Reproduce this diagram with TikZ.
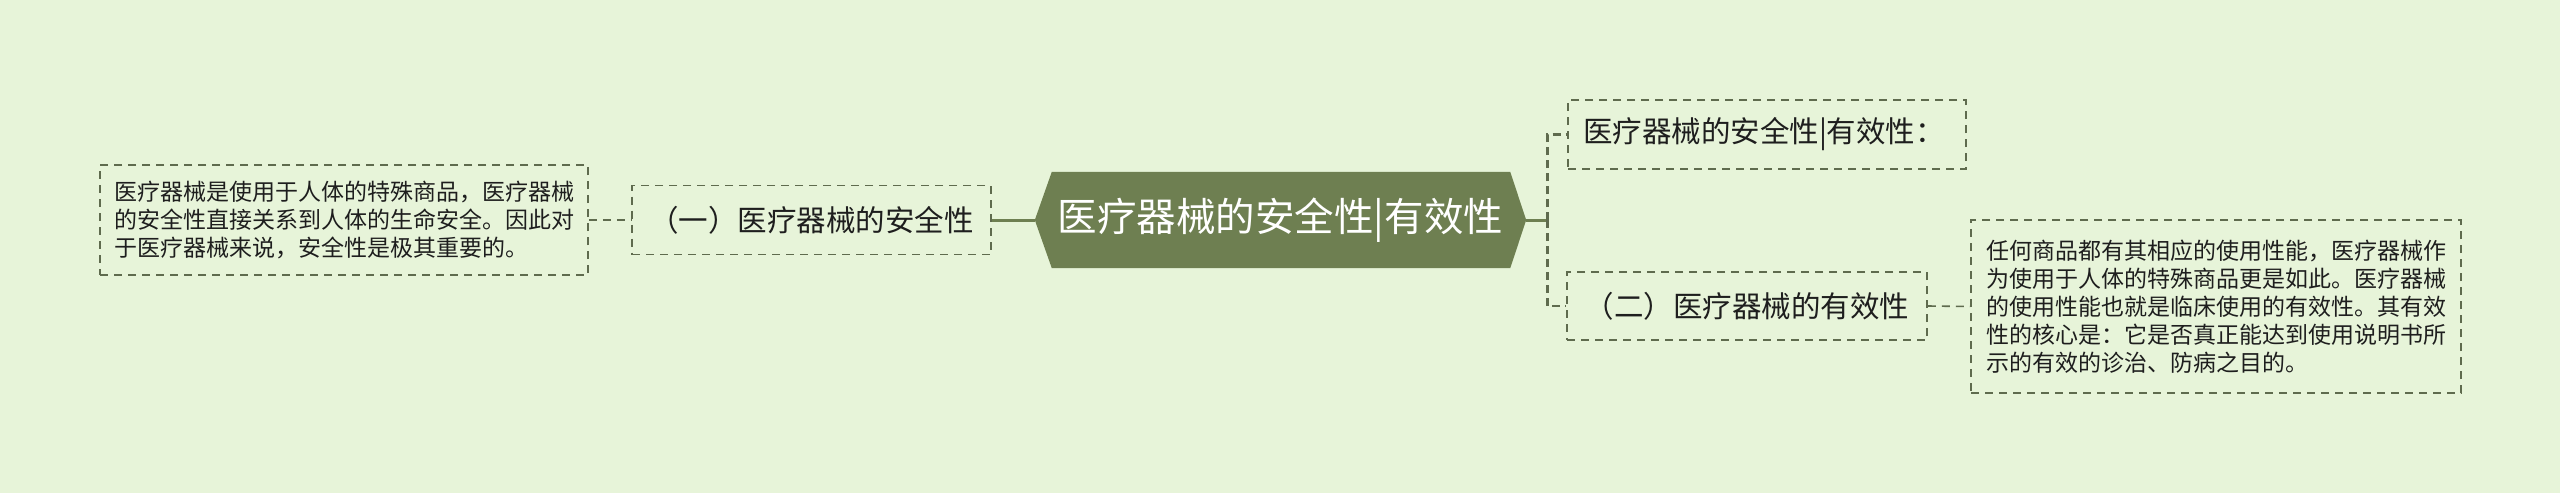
\documentclass[tikz,border=0pt]{standalone}
\usepackage{fontspec}
\setmainfont{Noto Sans CJK SC}
\usetikzlibrary{backgrounds}
\definecolor{bgc}{HTML}{E7F4D9}
\definecolor{rootc}{HTML}{6E7F51}
\definecolor{linec}{HTML}{5F6B4E}
\definecolor{txtc}{HTML}{1E1E1E}
\begin{document}
\begin{tikzpicture}[x=1pt,y=-1pt,
  box/.style={draw=linec, line width=1.6pt, dash pattern=on 8pt off 6pt, text=txtc, inner sep=0pt},
  leaf/.style={box, font=\fontsize{23}{28}\selectfont, align=left, text width=460pt},
  topic/.style={box, font=\fontsize{29.5}{34}\selectfont},
  conn/.style={draw=linec, line width=1.6pt, dash pattern=on 8pt off 6pt},
  trunk/.style={draw=rootc, line width=3pt},
  branch/.style={draw=linec, line width=2.6pt, dash pattern=on 8pt off 5pt}]
\useasboundingbox (0,0) rectangle (2560,493);

\node[leaf, inner xsep=14pt, minimum height=110pt] (l1) at (344,220)
  {医疗器械是使用于人体的特殊商品，医疗器械\\的安全性直接关系到人体的生命安全。因此对\\于医疗器械来说，安全性是极其重要的。};
\node[topic, minimum width=359pt, minimum height=69pt] (a) at (811.5,220) {（一）医疗器械的安全性};
\node[font=\fontsize{39.5}{44}\selectfont, text=white, minimum width=491pt, minimum height=96pt, inner sep=0pt] (root) at (1280.5,220) {医疗器械的安全性|有效性};
\node[topic, minimum height=69pt, text width=368pt, align=left, inner xsep=15pt] (b) at (1767,134.5) {医疗器械的安全性|有效性：};
\node[topic, minimum width=360pt, minimum height=68pt] (c) at (1747,306) {（二）医疗器械的有效性};
\node[leaf, inner xsep=15pt, minimum height=173pt] (l2) at (2216,306.5)
  {任何商品都有其相应的使用性能，医疗器械作\\为使用于人体的特殊商品更是如此。医疗器械\\的使用性能也就是临床使用的有效性。其有效\\性的核心是：它是否真正能达到使用说明书所\\示的有效的诊治、防病之目的。};

\begin{scope}[on background layer]
  \fill[bgc] (0,0) rectangle (2560,493);
  \fill[rootc] (root.west) -- ([xshift=17pt]root.north west) -- ([xshift=-16pt]root.north east)
    -- (root.east) -- ([xshift=-16pt]root.south east) -- ([xshift=17pt]root.south west) -- cycle;
\end{scope}

\draw[conn] (l1.east) -- (a.west);
\draw[trunk] (a.east) -- (root.west);
\draw[trunk] (root.east) -- ++(21pt,0) coordinate (j);
\draw[branch] (j) |- (b.west);
\draw[branch] (j) |- (c.west);
\draw[conn] (c.east) -- (l2.west);
\end{tikzpicture}
\end{document}
